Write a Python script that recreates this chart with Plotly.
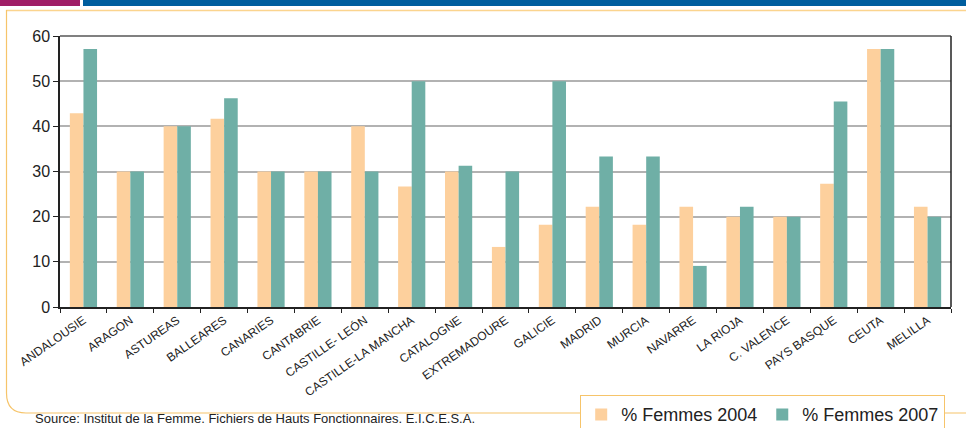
import plotly.graph_objects as go

regions = ["ANDALOUSIE", "ARAGON", "ASTUREAS", "BALLEARES", "CANARIES", "CANTABRIE",
           "CASTILLE- LEÓN", "CASTILLE-LA MANCHA", "CATALOGNE", "EXTREMADOURE", "GALICIE",
           "MADRID", "MURCIA", "NAVARRE", "LA RIOJA", "C. VALENCE", "PAYS BASQUE", "CEUTA", "MELILLA"]
femmes_2004 = [42.9, 30.0, 40.0, 41.7, 30.0, 30.0, 40.0, 26.7, 30.0, 13.3, 18.2,
               22.2, 18.2, 22.2, 20.0, 20.0, 27.3, 57.1, 22.2]
femmes_2007 = [57.1, 30.0, 40.0, 46.2, 30.0, 30.0, 30.0, 50.0, 31.3, 30.0, 50.0,
               33.3, 33.3, 9.1, 22.2, 20.0, 45.5, 57.1, 20.0]
series_names = ["% Femmes 2004", "% Femmes 2007"]
y_ticks = [0, 10, 20, 30, 40, 50, 60]
source_text = "Source: Institut de la Femme. Fichiers de Hauts Fonctionnaires. E.I.C.E.S.A."

W, H = 966, 428
L, R, T, B = 60, 951, 36, 307

def px(x):
    return (x - L) / (R - L)

def py(y):
    return (B - y) / (B - T)

fig = go.Figure()
fig.add_trace(go.Bar(x=regions, y=femmes_2004, name=series_names[0],
                     marker=dict(color="#FDD09D", line=dict(width=0))))
fig.add_trace(go.Bar(x=regions, y=femmes_2007, name=series_names[1],
                     marker=dict(color="#6FAFA6", line=dict(width=0))))

font = "Liberation Sans, Arial, sans-serif"
orange = "#F6C46A"

shapes = [
    dict(type="rect", xref="paper", yref="paper", x0=px(0), x1=px(80), y0=py(0), y1=py(6),
         fillcolor="#A01E66", line=dict(width=0), layer="above"),
    dict(type="rect", xref="paper", yref="paper", x0=px(83), x1=px(966), y0=py(0), y1=py(6),
         fillcolor="#005E9E", line=dict(width=0), layer="above"),
    dict(type="line", xref="paper", yref="paper", x0=px(6), x1=px(966), y0=py(10.5), y1=py(10.5),
         line=dict(color="#FBD48E", width=1.5)),
    dict(type="path", xref="paper", yref="paper",
         path=f"M {px(6.5)},{py(10)} L {px(6.5)},{py(393)} Q {px(6.5)},{py(413)} {px(26)},{py(413)} L {px(966)},{py(413)}",
         line=dict(color=orange, width=1.2)),
    dict(type="line", xref="paper", yref="paper", x0=0, x1=1, y0=1, y1=1,
         line=dict(color="#808080", width=2)),
    dict(type="line", xref="paper", yref="paper", x0=1, x1=1, y0=0, y1=1,
         line=dict(color="#222222", width=1.5)),
]

fig.update_layout(
    width=W, height=H,
    margin=dict(l=L, r=W - R, t=T, b=H - B, autoexpand=False),
    paper_bgcolor="white", plot_bgcolor="white",
    barmode="group", bargap=0.42, bargroupgap=0,
    font=dict(family=font, color="#222222"),
    showlegend=True,
    legend=dict(orientation="h", x=px(580), y=py(395), xanchor="left", yanchor="top",
                xref="paper", yref="paper",
                bgcolor="white", bordercolor=orange, borderwidth=1.2,
                font=dict(size=18, family=font, color="#222222"),
                itemwidth=30, tracegroupgap=0),
    xaxis=dict(type="category", tickangle=-35, tickfont=dict(size=12, family=font, color="#222222"),
               showline=True, linecolor="#222222", linewidth=1.5,
               ticks="outside", ticklen=4, tickcolor="#222222", tickson="boundaries",
               showgrid=False, range=[-0.5, len(regions) - 0.5], automargin=False),
    yaxis=dict(range=[0, 60], tickvals=y_ticks, tickfont=dict(size=16, family=font, color="#222222"),
               showline=True, linecolor="#222222", linewidth=1.5,
               ticks="outside", ticklen=5, tickcolor="#222222",
               showgrid=True, gridcolor="#B2B2B2", gridwidth=1.5, zeroline=False, automargin=False),
    shapes=shapes,
    annotations=[dict(text=source_text, xref="paper", yref="paper", x=px(33), y=py(428),
                      xanchor="left", yanchor="bottom", showarrow=False,
                      font=dict(size=13, family=font, color="#222222"))],
)

fig.write_html("out.html", config={"displayModeBar": False},
               post_script="document.body.style.margin='0px';document.body.style.overflow='hidden';")
